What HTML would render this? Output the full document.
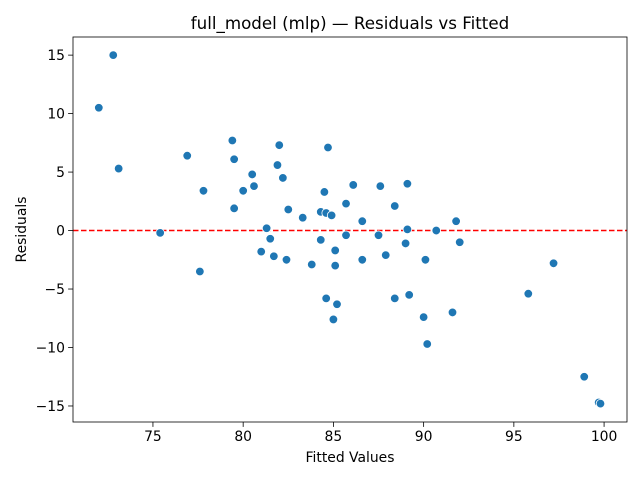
<!DOCTYPE html>
<html><head><meta charset="utf-8"><style>
body{margin:0;background:#fff;font-family:"Liberation Sans","DejaVu Sans",sans-serif}
</style></head><body>
<svg id="chart" width="640" height="480" xmlns="http://www.w3.org/2000/svg" font-family="DejaVu Sans, Liberation Sans, sans-serif"></svg>
<script>
const fittedValues=[72.0,72.8,73.1,75.4,76.9,77.6,77.8,79.4,79.5,79.5,80.0,80.5,80.6,81.0,81.3,81.5,81.7,82.0,81.9,82.2,82.4,82.5,83.3,83.8,84.3,84.3,84.5,84.6,84.7,84.9,85.1,85.1,85.2,85.0,84.6,85.7,85.7,86.1,86.6,86.6,87.5,87.6,87.9,88.4,88.4,89.0,89.1,89.2,89.1,90.0,90.1,90.2,90.7,91.6,91.8,92.0,95.8,97.2,98.9,99.7,99.8];
const residuals=[10.5,15.0,5.3,-0.2,6.4,-3.5,3.4,7.7,6.1,1.9,3.4,4.8,3.8,-1.8,0.2,-0.7,-2.2,7.3,5.6,4.5,-2.5,1.8,1.1,-2.9,1.6,-0.8,3.3,1.5,7.1,1.3,-1.7,-3.0,-6.3,-7.6,-5.8,2.3,-0.4,3.9,0.8,-2.5,-0.4,3.8,-2.1,2.1,-5.8,-1.1,4.0,-5.5,0.1,-7.4,-2.5,-9.7,0.0,-7.0,0.8,-1.0,-5.4,-2.8,-12.5,-14.7,-14.8];
const xTicks=[75,80,85,90,95,100];
const yTicks=[-15,-10,-5,0,5,10,15];
const L=73,R=627,T=37,B=422,xMin=70.57,xMax=101.27,yMin=-16.37,yMax=16.55;
const sx=v=>L+(v-xMin)/(xMax-xMin)*(R-L);
const sy=v=>B-(v-yMin)/(yMax-yMin)*(B-T);
const NS="http://www.w3.org/2000/svg";
const svg=document.getElementById('chart');
function mk(tag,attrs,text){const e=document.createElementNS(NS,tag);for(const k in attrs)e.setAttribute(k,attrs[k]);if(text!==undefined)e.textContent=text;svg.appendChild(e);return e;}
let e;
e=mk('line',{x1:L,x2:R,y1:sy(0),y2:sy(0),stroke:'#ff0000','stroke-width':1.5,'stroke-dasharray':'5.5,2.5'});


fittedValues.forEach((x,i)=>{
  const c=mk('circle',{cx:sx(x),cy:sy(residuals[i]),r:4.3,fill:'#1f77b4',stroke:'#fff','stroke-width':0.8});
  
  
});
e=mk('rect',{x:L,y:T,width:R-L,height:B-T,fill:'none',stroke:'#000','stroke-width':0.8});


xTicks.forEach(t=>{
  const x=sx(t);
  mk('line',{x1:x,x2:x,y1:B,y2:B+4.9,stroke:'#000','stroke-width':0.8});
  const tx=mk('text',{x:x,y:B+19,'font-size':13.9,'text-anchor':'middle',fill:'#000'},t);
  
  
});
yTicks.forEach(t=>{
  const y=sy(t);
  mk('line',{x1:L-4.9,x2:L,y1:y,y2:y,stroke:'#000','stroke-width':0.8});
  const tx=mk('text',{x:L-8,y:y+5,'font-size':13.9,'text-anchor':'end',fill:'#000'},t===0?'0':(t<0?'\u2212'+Math.abs(t):t));
  
  
});
e=mk('text',{x:(L+R)/2,y:29,'font-size':16.7,'text-anchor':'middle',fill:'#000'},'full_model (mlp) \u2014 Residuals vs Fitted');


e=mk('text',{x:(L+R)/2,y:462,'font-size':13.9,'text-anchor':'middle',fill:'#000'},'Fitted Values');


e=mk('text',{x:26,y:(T+B)/2,'font-size':13.9,'text-anchor':'middle',fill:'#000',transform:`rotate(-90 26 ${(T+B)/2})`},'Residuals');


</script>
</body></html>
